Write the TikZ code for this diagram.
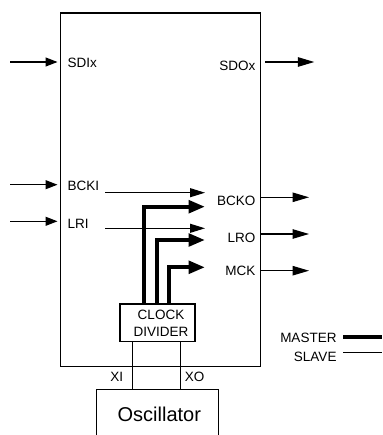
\documentclass[tikz,border=0pt]{standalone}
\usepackage{fontspec}
\setmainfont{Liberation Sans}
\usetikzlibrary{arrows.meta}
\begin{document}
\begin{tikzpicture}[x=1pt,y=-1pt,
  lbl/.style={font=\fontsize{13.5}{17.4}\selectfont, inner sep=0pt},
  thinline/.style={line width=1.1pt},
  inarr/.style={line width=1.1pt, -{Triangle[length=12pt,width=9pt]}},
  outarr/.style={line width=1.1pt, -{Triangle[length=16.5pt,width=9.5pt]}},
  innarr/.style={line width=1.1pt, -{Triangle[length=15pt,width=9pt]}},
  masterarr/.style={line width=4pt, -{Triangle[length=16.5pt,width=12.5pt]}},
  box/.style={draw, line width=1.3pt, inner sep=0pt}]
\useasboundingbox (0,0) rectangle (382,435);
\clip (0,0) rectangle (382,435);
% main block
\node[box, minimum width=200.5pt, minimum height=353.5pt, anchor=north west] (chip) at (59.5,12.5) {};
% labels
\node[lbl, anchor=west] (sdix) at (67.5,63.3) {SDIx};
\node[lbl, anchor=east] (sdox) at (255.5,66) {SDOx};
\node[lbl, anchor=west] (bcki) at (67.5,186) {BCKI};
\node[lbl, anchor=west] (lri) at (67.5,223.5) {LRI};
\node[lbl, anchor=east] (bcko) at (255.5,201.3) {BCKO};
\node[lbl, anchor=east] (lro) at (255.5,238.3) {LRO};
\node[lbl, anchor=east] (mck) at (255.5,271.3) {MCK};
% inputs
\coordinate (sdiS) at (10,62);
\coordinate (bckiS) at (10,184.7);
\coordinate (lriS) at (10,221.3);
\draw[inarr, shorten >=2pt] (sdiS) -- (sdiS -| chip.west);
\draw[inarr, shorten >=2pt] (bckiS) -- (bckiS -| chip.west);
\draw[inarr, shorten >=2pt] (lriS) -- (lriS -| chip.west);
% outputs
\coordinate (sdoE) at (314.3,62);
\coordinate (bckoE) at (309,197.3);
\coordinate (lroE) at (309,234);
\coordinate (mckE) at (309,270.7);
\draw[outarr, shorten <=4pt] (sdoE -| chip.east) -- (sdoE);
\draw[outarr] (bckoE -| chip.east) -- (bckoE);
\draw[outarr] (lroE -| chip.east) -- (lroE);
\draw[outarr] (mckE -| chip.east) -- (mckE);
% slave paths inside
\coordinate (sb1) at (105,192.7);
\coordinate (eb1) at (205,192.7);
\coordinate (sl1) at (105,228.3);
\coordinate (el1) at (205,228.3);
\draw[innarr] (sb1) -- (eb1);
\draw[innarr] (sl1) -- (el1);
% clock divider
\node[box, line width=1.1pt, minimum width=75pt, minimum height=37.7pt] (cd) at (157.5,322.85) {};
\node[lbl, align=center] (cdt) at (161,323) {CLOCK\\DIVIDER};
% master paths
\coordinate (m1) at (205,206.7);
\coordinate (m2) at (205,240);
\coordinate (m3) at (205,267.3);
\coordinate (c1) at ([xshift=25pt]cd.north west);
\coordinate (c2) at ([xshift=37.3pt]cd.north west);
\coordinate (c3) at ([xshift=49.3pt]cd.north west);
\draw[masterarr] (c1) |- (m1);
\draw[masterarr] (c2) |- (m2);
\draw[masterarr] (c3) |- (m3);
% oscillator
\node[box, line width=1.1pt, minimum width=121.7pt, minimum height=81.3pt, anchor=north west] (osc) at (96,388.7) {};
\node[font=\fontsize{20}{24}\selectfont, inner sep=0pt] (osct) at (159.3,414.3) {Oscillator};
\coordinate (xiT) at ([xshift=13pt]cd.south west);
\coordinate (xoT) at ([xshift=61pt]cd.south west);
\draw[thinline] (xiT) -- (xiT |- osc.north);
\draw[thinline] (xoT) -- (xoT |- osc.north);
\node[lbl] (xi) at (116.8,376.7) {XI};
\node[lbl] (xo) at (194.7,376.7) {XO};
% legend
\node[lbl, anchor=east] (mtext) at (336.7,338) {MASTER};
\node[lbl, anchor=east] (stext) at (336.7,357) {SLAVE};
\coordinate (mS) at (343.3,336.7);
\coordinate (mE) at (382,336.7);
\coordinate (sS) at (343.3,352.3);
\coordinate (sE) at (382,352.3);
\draw[line width=4pt] (mS) -- (mE);
\draw[thinline] (sS) -- (sE);
\end{tikzpicture}
\end{document}
